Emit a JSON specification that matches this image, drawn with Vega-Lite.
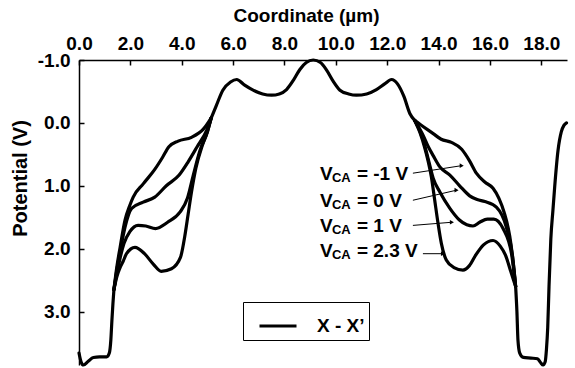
{
  "$schema": "https://vega.github.io/schema/vega-lite/v6.json",
  "width": 488,
  "height": 305,
  "autosize": {"type": "none"},
  "padding": {"left": 79, "top": 60, "right": 8, "bottom": 3},
  "background": "white",
  "config": {
    "view": {"stroke": null},
    "font": "Liberation Sans",
    "axis": {
      "grid": false,
      "labelFont": "Liberation Sans",
      "labelFontSize": 19,
      "labelFontWeight": "bold",
      "labelColor": "black",
      "titleFont": "Liberation Sans",
      "titleFontSize": 19,
      "titleFontWeight": "bold",
      "titleColor": "black",
      "domainColor": "black",
      "domainWidth": 1.5,
      "tickColor": "black",
      "tickWidth": 1.5,
      "tickSize": -5,
      "labelOverlap": false,
      "labelFlush": false,
      "labelBound": false
    }
  },
  "datasets": {
    "curves": [
      {"seg": "CL", "cut": "X - X’", "x": 0, "y": 3.66},
      {"seg": "CL", "cut": "X - X’", "x": 0.08, "y": 3.8},
      {"seg": "CL", "cut": "X - X’", "x": 0.17, "y": 3.85},
      {"seg": "CL", "cut": "X - X’", "x": 0.36, "y": 3.79},
      {"seg": "CL", "cut": "X - X’", "x": 0.56, "y": 3.73},
      {"seg": "CL", "cut": "X - X’", "x": 0.8, "y": 3.72},
      {"seg": "CL", "cut": "X - X’", "x": 1.08, "y": 3.72},
      {"seg": "CL", "cut": "X - X’", "x": 1.18, "y": 3.66},
      {"seg": "CL", "cut": "X - X’", "x": 1.24, "y": 3.45},
      {"seg": "CL", "cut": "X - X’", "x": 1.28, "y": 3.15},
      {"seg": "CL", "cut": "X - X’", "x": 1.32, "y": 2.88},
      {"seg": "CL", "cut": "X - X’", "x": 1.36, "y": 2.65},

      {"seg": "A1", "cut": "X - X’", "x": 1.36, "y": 2.65},
      {"seg": "A1", "cut": "X - X’", "x": 1.47, "y": 2.3},
      {"seg": "A1", "cut": "X - X’", "x": 1.6, "y": 1.98},
      {"seg": "A1", "cut": "X - X’", "x": 1.79, "y": 1.55},
      {"seg": "A1", "cut": "X - X’", "x": 1.98, "y": 1.31},
      {"seg": "A1", "cut": "X - X’", "x": 2.11, "y": 1.18},
      {"seg": "A1", "cut": "X - X’", "x": 2.5, "y": 0.97},
      {"seg": "A1", "cut": "X - X’", "x": 2.95, "y": 0.74},
      {"seg": "A1", "cut": "X - X’", "x": 3.25, "y": 0.55},
      {"seg": "A1", "cut": "X - X’", "x": 3.5, "y": 0.38},
      {"seg": "A1", "cut": "X - X’", "x": 3.86, "y": 0.29},
      {"seg": "A1", "cut": "X - X’", "x": 4.38, "y": 0.23},
      {"seg": "A1", "cut": "X - X’", "x": 4.84, "y": 0.1},
      {"seg": "A1", "cut": "X - X’", "x": 5.15, "y": -0.08},

      {"seg": "B1", "cut": "X - X’", "x": 1.36, "y": 2.65},
      {"seg": "B1", "cut": "X - X’", "x": 1.47, "y": 2.35},
      {"seg": "B1", "cut": "X - X’", "x": 1.6, "y": 2.05},
      {"seg": "B1", "cut": "X - X’", "x": 1.79, "y": 1.66},
      {"seg": "B1", "cut": "X - X’", "x": 2.05, "y": 1.36},
      {"seg": "B1", "cut": "X - X’", "x": 2.5, "y": 1.26},
      {"seg": "B1", "cut": "X - X’", "x": 2.95, "y": 1.18},
      {"seg": "B1", "cut": "X - X’", "x": 3.4, "y": 1.0},
      {"seg": "B1", "cut": "X - X’", "x": 3.9, "y": 0.83},
      {"seg": "B1", "cut": "X - X’", "x": 4.25, "y": 0.62},
      {"seg": "B1", "cut": "X - X’", "x": 4.6, "y": 0.38},
      {"seg": "B1", "cut": "X - X’", "x": 4.97, "y": 0.12},
      {"seg": "B1", "cut": "X - X’", "x": 5.15, "y": -0.08},

      {"seg": "C1", "cut": "X - X’", "x": 1.36, "y": 2.65},
      {"seg": "C1", "cut": "X - X’", "x": 1.47, "y": 2.4},
      {"seg": "C1", "cut": "X - X’", "x": 1.6, "y": 2.15},
      {"seg": "C1", "cut": "X - X’", "x": 1.75, "y": 1.92},
      {"seg": "C1", "cut": "X - X’", "x": 1.98, "y": 1.73},
      {"seg": "C1", "cut": "X - X’", "x": 2.3, "y": 1.63},
      {"seg": "C1", "cut": "X - X’", "x": 2.6, "y": 1.64},
      {"seg": "C1", "cut": "X - X’", "x": 2.98, "y": 1.68},
      {"seg": "C1", "cut": "X - X’", "x": 3.45, "y": 1.58},
      {"seg": "C1", "cut": "X - X’", "x": 3.93, "y": 1.42},
      {"seg": "C1", "cut": "X - X’", "x": 4.22, "y": 1.2},
      {"seg": "C1", "cut": "X - X’", "x": 4.45, "y": 0.83},
      {"seg": "C1", "cut": "X - X’", "x": 4.71, "y": 0.44},
      {"seg": "C1", "cut": "X - X’", "x": 5.0, "y": 0.14},
      {"seg": "C1", "cut": "X - X’", "x": 5.15, "y": -0.08},

      {"seg": "D1", "cut": "X - X’", "x": 1.36, "y": 2.65},
      {"seg": "D1", "cut": "X - X’", "x": 1.47, "y": 2.45},
      {"seg": "D1", "cut": "X - X’", "x": 1.6, "y": 2.3},
      {"seg": "D1", "cut": "X - X’", "x": 1.72, "y": 2.2},
      {"seg": "D1", "cut": "X - X’", "x": 1.85, "y": 2.08},
      {"seg": "D1", "cut": "X - X’", "x": 2.18, "y": 1.98},
      {"seg": "D1", "cut": "X - X’", "x": 2.55, "y": 2.08},
      {"seg": "D1", "cut": "X - X’", "x": 2.9, "y": 2.25},
      {"seg": "D1", "cut": "X - X’", "x": 3.2, "y": 2.36},
      {"seg": "D1", "cut": "X - X’", "x": 3.6, "y": 2.32},
      {"seg": "D1", "cut": "X - X’", "x": 3.95, "y": 2.14},
      {"seg": "D1", "cut": "X - X’", "x": 4.12, "y": 1.8},
      {"seg": "D1", "cut": "X - X’", "x": 4.25, "y": 1.45},
      {"seg": "D1", "cut": "X - X’", "x": 4.38, "y": 1.1},
      {"seg": "D1", "cut": "X - X’", "x": 4.55, "y": 0.72},
      {"seg": "D1", "cut": "X - X’", "x": 4.8, "y": 0.36},
      {"seg": "D1", "cut": "X - X’", "x": 5.0, "y": 0.14},
      {"seg": "D1", "cut": "X - X’", "x": 5.15, "y": -0.08},

      {"seg": "CM", "cut": "X - X’", "x": 5.15, "y": -0.08},
      {"seg": "CM", "cut": "X - X’", "x": 5.35, "y": -0.28},
      {"seg": "CM", "cut": "X - X’", "x": 5.6, "y": -0.52},
      {"seg": "CM", "cut": "X - X’", "x": 5.9, "y": -0.65},
      {"seg": "CM", "cut": "X - X’", "x": 6.14, "y": -0.69},
      {"seg": "CM", "cut": "X - X’", "x": 6.45, "y": -0.6},
      {"seg": "CM", "cut": "X - X’", "x": 6.78, "y": -0.52},
      {"seg": "CM", "cut": "X - X’", "x": 7.15, "y": -0.46},
      {"seg": "CM", "cut": "X - X’", "x": 7.5, "y": -0.44},
      {"seg": "CM", "cut": "X - X’", "x": 7.8, "y": -0.46},
      {"seg": "CM", "cut": "X - X’", "x": 8.08, "y": -0.53},
      {"seg": "CM", "cut": "X - X’", "x": 8.35, "y": -0.68},
      {"seg": "CM", "cut": "X - X’", "x": 8.6, "y": -0.85},
      {"seg": "CM", "cut": "X - X’", "x": 8.85, "y": -0.96},
      {"seg": "CM", "cut": "X - X’", "x": 9.12, "y": -1.0},
      {"seg": "CM", "cut": "X - X’", "x": 9.4, "y": -0.96},
      {"seg": "CM", "cut": "X - X’", "x": 9.64, "y": -0.84},
      {"seg": "CM", "cut": "X - X’", "x": 9.9, "y": -0.66},
      {"seg": "CM", "cut": "X - X’", "x": 10.16, "y": -0.52},
      {"seg": "CM", "cut": "X - X’", "x": 10.5, "y": -0.46},
      {"seg": "CM", "cut": "X - X’", "x": 10.8, "y": -0.44},
      {"seg": "CM", "cut": "X - X’", "x": 11.2, "y": -0.46},
      {"seg": "CM", "cut": "X - X’", "x": 11.58, "y": -0.53},
      {"seg": "CM", "cut": "X - X’", "x": 11.9, "y": -0.62},
      {"seg": "CM", "cut": "X - X’", "x": 12.17, "y": -0.69},
      {"seg": "CM", "cut": "X - X’", "x": 12.4, "y": -0.62},
      {"seg": "CM", "cut": "X - X’", "x": 12.65, "y": -0.42},
      {"seg": "CM", "cut": "X - X’", "x": 12.88, "y": -0.15},
      {"seg": "CM", "cut": "X - X’", "x": 13.07, "y": -0.04},

      {"seg": "A2", "cut": "X - X’", "x": 13.07, "y": -0.04},
      {"seg": "A2", "cut": "X - X’", "x": 13.3, "y": 0.03},
      {"seg": "A2", "cut": "X - X’", "x": 13.79, "y": 0.17},
      {"seg": "A2", "cut": "X - X’", "x": 14.1, "y": 0.26},
      {"seg": "A2", "cut": "X - X’", "x": 14.5, "y": 0.31},
      {"seg": "A2", "cut": "X - X’", "x": 14.9, "y": 0.42},
      {"seg": "A2", "cut": "X - X’", "x": 15.2, "y": 0.6},
      {"seg": "A2", "cut": "X - X’", "x": 15.47, "y": 0.8},
      {"seg": "A2", "cut": "X - X’", "x": 15.8, "y": 0.94},
      {"seg": "A2", "cut": "X - X’", "x": 16.12, "y": 1.04},
      {"seg": "A2", "cut": "X - X’", "x": 16.35, "y": 1.2},
      {"seg": "A2", "cut": "X - X’", "x": 16.55, "y": 1.42},
      {"seg": "A2", "cut": "X - X’", "x": 16.77, "y": 1.8},
      {"seg": "A2", "cut": "X - X’", "x": 16.9, "y": 2.2},
      {"seg": "A2", "cut": "X - X’", "x": 17.0, "y": 2.6},

      {"seg": "B2", "cut": "X - X’", "x": 13.07, "y": -0.04},
      {"seg": "B2", "cut": "X - X’", "x": 13.4, "y": 0.2},
      {"seg": "B2", "cut": "X - X’", "x": 13.6, "y": 0.38},
      {"seg": "B2", "cut": "X - X’", "x": 13.79, "y": 0.52},
      {"seg": "B2", "cut": "X - X’", "x": 14.05, "y": 0.7},
      {"seg": "B2", "cut": "X - X’", "x": 14.44, "y": 0.83},
      {"seg": "B2", "cut": "X - X’", "x": 14.82, "y": 1.0},
      {"seg": "B2", "cut": "X - X’", "x": 15.21, "y": 1.16},
      {"seg": "B2", "cut": "X - X’", "x": 15.5, "y": 1.22},
      {"seg": "B2", "cut": "X - X’", "x": 15.8, "y": 1.25},
      {"seg": "B2", "cut": "X - X’", "x": 16.25, "y": 1.34},
      {"seg": "B2", "cut": "X - X’", "x": 16.64, "y": 1.66},
      {"seg": "B2", "cut": "X - X’", "x": 16.88, "y": 2.12},
      {"seg": "B2", "cut": "X - X’", "x": 17.0, "y": 2.6},

      {"seg": "C2", "cut": "X - X’", "x": 13.07, "y": -0.04},
      {"seg": "C2", "cut": "X - X’", "x": 13.4, "y": 0.27},
      {"seg": "C2", "cut": "X - X’", "x": 13.6, "y": 0.58},
      {"seg": "C2", "cut": "X - X’", "x": 13.79, "y": 0.88},
      {"seg": "C2", "cut": "X - X’", "x": 14.05, "y": 1.1},
      {"seg": "C2", "cut": "X - X’", "x": 14.44, "y": 1.36},
      {"seg": "C2", "cut": "X - X’", "x": 14.8, "y": 1.54},
      {"seg": "C2", "cut": "X - X’", "x": 15.1, "y": 1.62},
      {"seg": "C2", "cut": "X - X’", "x": 15.34, "y": 1.64},
      {"seg": "C2", "cut": "X - X’", "x": 15.6, "y": 1.58},
      {"seg": "C2", "cut": "X - X’", "x": 15.9, "y": 1.53},
      {"seg": "C2", "cut": "X - X’", "x": 16.15, "y": 1.53},
      {"seg": "C2", "cut": "X - X’", "x": 16.51, "y": 1.68},
      {"seg": "C2", "cut": "X - X’", "x": 16.84, "y": 2.08},
      {"seg": "C2", "cut": "X - X’", "x": 17.0, "y": 2.6},

      {"seg": "D2", "cut": "X - X’", "x": 13.07, "y": -0.04},
      {"seg": "D2", "cut": "X - X’", "x": 13.27, "y": 0.15},
      {"seg": "D2", "cut": "X - X’", "x": 13.45, "y": 0.38},
      {"seg": "D2", "cut": "X - X’", "x": 13.6, "y": 0.62},
      {"seg": "D2", "cut": "X - X’", "x": 13.72, "y": 0.86},
      {"seg": "D2", "cut": "X - X’", "x": 13.85, "y": 1.23},
      {"seg": "D2", "cut": "X - X’", "x": 13.98, "y": 1.6},
      {"seg": "D2", "cut": "X - X’", "x": 14.11, "y": 1.92},
      {"seg": "D2", "cut": "X - X’", "x": 14.3, "y": 2.18},
      {"seg": "D2", "cut": "X - X’", "x": 14.6, "y": 2.3},
      {"seg": "D2", "cut": "X - X’", "x": 14.95, "y": 2.34},
      {"seg": "D2", "cut": "X - X’", "x": 15.2, "y": 2.27},
      {"seg": "D2", "cut": "X - X’", "x": 15.45, "y": 2.1},
      {"seg": "D2", "cut": "X - X’", "x": 15.75, "y": 1.94},
      {"seg": "D2", "cut": "X - X’", "x": 16.12, "y": 1.87},
      {"seg": "D2", "cut": "X - X’", "x": 16.4, "y": 1.96},
      {"seg": "D2", "cut": "X - X’", "x": 16.6, "y": 2.1},
      {"seg": "D2", "cut": "X - X’", "x": 16.84, "y": 2.4},
      {"seg": "D2", "cut": "X - X’", "x": 17.0, "y": 2.6},

      {"seg": "CR", "cut": "X - X’", "x": 17.0, "y": 2.6},
      {"seg": "CR", "cut": "X - X’", "x": 17.05, "y": 3.0},
      {"seg": "CR", "cut": "X - X’", "x": 17.09, "y": 3.45},
      {"seg": "CR", "cut": "X - X’", "x": 17.16, "y": 3.66},
      {"seg": "CR", "cut": "X - X’", "x": 17.3, "y": 3.73},
      {"seg": "CR", "cut": "X - X’", "x": 17.6, "y": 3.74},
      {"seg": "CR", "cut": "X - X’", "x": 17.85, "y": 3.75},
      {"seg": "CR", "cut": "X - X’", "x": 17.97, "y": 3.81},
      {"seg": "CR", "cut": "X - X’", "x": 18.07, "y": 3.85},
      {"seg": "CR", "cut": "X - X’", "x": 18.15, "y": 3.8},
      {"seg": "CR", "cut": "X - X’", "x": 18.2, "y": 3.6},
      {"seg": "CR", "cut": "X - X’", "x": 18.25, "y": 3.25},
      {"seg": "CR", "cut": "X - X’", "x": 18.3, "y": 2.6},
      {"seg": "CR", "cut": "X - X’", "x": 18.37, "y": 1.85},
      {"seg": "CR", "cut": "X - X’", "x": 18.45, "y": 1.4},
      {"seg": "CR", "cut": "X - X’", "x": 18.52, "y": 1.02},
      {"seg": "CR", "cut": "X - X’", "x": 18.65, "y": 0.44},
      {"seg": "CR", "cut": "X - X’", "x": 18.78, "y": 0.14},
      {"seg": "CR", "cut": "X - X’", "x": 18.88, "y": 0.04},
      {"seg": "CR", "cut": "X - X’", "x": 18.98, "y": 0.0}
    ],
    "labels": [
      {"x": 9.38, "y": 0.914, "rest": "= -1 V"},
      {"x": 9.38, "y": 1.34, "rest": "= 0 V"},
      {"x": 9.38, "y": 1.74, "rest": "= 1 V"},
      {"x": 9.38, "y": 2.14, "rest": "= 2.3 V"}
    ],
    "arrows": [
      {"x": 13.0, "y": 0.8, "x2": 14.9, "y2": 0.68},
      {"x": 13.0, "y": 1.23, "x2": 14.7, "y2": 1.07},
      {"x": 13.0, "y": 1.63, "x2": 14.52, "y2": 1.58},
      {"x": 13.39, "y": 2.08, "x2": 14.17, "y2": 2.08}
    ]
  },
  "layer": [
    {
      "data": {"name": "curves"},
      "mark": {"type": "line", "interpolate": "monotone", "strokeWidth": 3.2, "strokeJoin": "round", "strokeCap": "round"},
      "encoding": {
        "x": {
          "field": "x", "type": "quantitative",
          "scale": {"domain": [0, 19], "nice": false, "zero": false},
          "axis": {
            "orient": "top",
            "title": "Coordinate (µm)",
            "values": [0,1,2,3,4,5,6,7,8,9,10,11,12,13,14,15,16,17,18,19],
            "labelExpr": "datum.value % 2 == 0 ? format(datum.value, '.1f') : ''",
            "labelPadding": 12,
            "titlePadding": 9,
            "titleX": 227
          }
        },
        "y": {
          "field": "y", "type": "quantitative",
          "scale": {"domain": [-1, 3.85], "reverse": true, "nice": false, "zero": false},
          "axis": {
            "orient": "left",
            "title": "Potential (V)",
            "values": [-1, -0.5, 0, 0.5, 1, 1.5, 2, 2.5, 3, 3.5],
            "labelExpr": "datum.value % 1 == 0 ? replace(format(datum.value, '.1f'), '−', '-') : ''",
            "labelPadding": 14,
            "titleX": -49,
            "titleY": 118,
            "titleFontSize": 20
          }
        },
        "detail": {"field": "seg"},
        "color": {
          "field": "cut", "type": "nominal",
          "scale": {"range": ["black"]},
          "legend": {
            "title": null,
            "orient": "none",
            "legendX": 164,
            "legendY": 242,
            "symbolType": "stroke",
            "symbolSize": 1369,
            "symbolStrokeWidth": 3,
            "symbolStrokeColor": "black",
            "symbolOffset": 11,
            "labelOffset": 19,
            "labelFont": "Liberation Sans",
            "labelFontSize": 19,
            "labelFontWeight": "bold",
            "labelColor": "black",
            "labelExpr": "datum.label + '   '",
            "padding": 4,
            "strokeColor": "black"
          }
        }
      }
    },
    {
      "data": {"name": "arrows"},
      "mark": {"type": "rule", "strokeWidth": 1, "color": "black"},
      "encoding": {
        "x": {"field": "x", "type": "quantitative"},
        "y": {"field": "y", "type": "quantitative"},
        "x2": {"field": "x2"},
        "y2": {"field": "y2"}
      }
    },
    {
      "data": {"name": "arrows"},
      "mark": {"type": "point", "shape": "triangle-right", "size": 22, "filled": true, "color": "black", "opacity": 1},
      "encoding": {
        "x": {"field": "x2", "type": "quantitative"},
        "y": {"field": "y2", "type": "quantitative"}
      }
    },
    {
      "data": {"name": "labels"},
      "mark": {"type": "text", "text": "V", "align": "left", "baseline": "alphabetic", "fontSize": 19, "fontWeight": "bold", "font": "Liberation Sans", "color": "black"},
      "encoding": {
        "x": {"field": "x", "type": "quantitative"},
        "y": {"field": "y", "type": "quantitative"}
      }
    },
    {
      "data": {"name": "labels"},
      "mark": {"type": "text", "text": "CA", "align": "left", "baseline": "alphabetic", "dx": 12, "dy": 2, "fontSize": 13, "fontWeight": "bold", "font": "Liberation Sans", "color": "black"},
      "encoding": {
        "x": {"field": "x", "type": "quantitative"},
        "y": {"field": "y", "type": "quantitative"}
      }
    },
    {
      "data": {"name": "labels"},
      "mark": {"type": "text", "align": "left", "baseline": "alphabetic", "dx": 37, "fontSize": 19, "fontWeight": "bold", "font": "Liberation Sans", "color": "black"},
      "encoding": {
        "x": {"field": "x", "type": "quantitative"},
        "y": {"field": "y", "type": "quantitative"},
        "text": {"field": "rest"}
      }
    }
  ]
}
